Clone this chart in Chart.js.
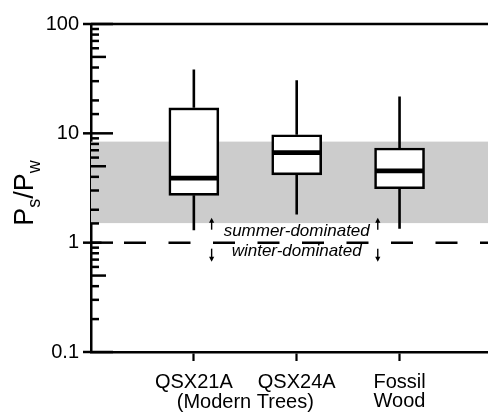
<!DOCTYPE html>
<html>
<head>
<meta charset="utf-8">
<script src="https://cdn.jsdelivr.net/npm/chart.js@4"></script>
<style>
  html, body { margin: 0; padding: 0; background: #fff; }
  #wrap { position: relative; width: 488px; height: 417px; }
</style>
</head>
<body>
<div id="wrap"><canvas id="chart"></canvas></div>
<script>
// Data
const categories = [["QSX21A"], ["QSX24A"], ["Fossil", "Wood"]];
const groupLabel = "(Modern Trees)";
const whiskerLow = [1.30, 1.81, 1.34];
const q1 = [2.71, 4.17, 3.11];
const median = [3.90, 6.66, 4.53];
const q3 = [17.1, 9.71, 7.34];
const whiskerHigh = [38.4, 30.6, 21.7];
const bandRange = [1.51, 8.4];
const refLine = 1;
const yTickLabels = [0.1, 1, 10, 100];
const notes = ["summer-dominated", "winter-dominated"];

const FONT = "'Liberation Sans', Arial, sans-serif";
const INK = "#000";
const xPos = categories.map((c, i) => i + 1);

// grey band + dashed reference line behind the boxes
const backdrop = {
  id: "backdrop",
  beforeDatasetsDraw(chart) {
    const { ctx, chartArea: a, scales: { y } } = chart;
    const yTop = y.getPixelForValue(bandRange[1]);
    const yBot = y.getPixelForValue(bandRange[0]);
    ctx.save();
    ctx.fillStyle = "#cccccc";
    ctx.fillRect(a.left, yTop, a.right - a.left, yBot - yTop);

    const yr = y.getPixelForValue(refLine);
    ctx.strokeStyle = INK;
    ctx.lineWidth = 2.5;
    ctx.setLineDash([22, 22.5]);
    ctx.lineDashOffset = 11.5;
    ctx.beginPath();
    ctx.moveTo(a.left, yr);
    ctx.lineTo(a.right, yr);
    ctx.stroke();
    ctx.restore();
  },
};

// whiskers + medians, tick marks, top frame, labels
const boxExtras = {
  id: "boxExtras",
  afterDatasetsDraw(chart) {
    const { ctx, chartArea: a, scales: { x, y } } = chart;
    const bars = chart.getDatasetMeta(0).data;
    ctx.save();
    ctx.strokeStyle = INK;

    bars.forEach((bar, i) => {
      const cx = bar.x;
      const half = bar.width / 2;
      ctx.lineWidth = 2.6;
      ctx.beginPath();
      ctx.moveTo(cx, y.getPixelForValue(q3[i]));
      ctx.lineTo(cx, y.getPixelForValue(whiskerHigh[i]));
      ctx.moveTo(cx, y.getPixelForValue(q1[i]));
      ctx.lineTo(cx, y.getPixelForValue(whiskerLow[i]));
      ctx.stroke();
      ctx.lineWidth = 4.7;
      const ym = y.getPixelForValue(median[i]);
      ctx.beginPath();
      ctx.moveTo(cx - half + 1, ym);
      ctx.lineTo(cx + half - 1, ym);
      ctx.stroke();
    });

    // y tick marks (inside), majors cross the axis
    ctx.lineWidth = 2.5;
    y.ticks.forEach((t) => {
      const v = t.value;
      const m = Math.round(v / Math.pow(10, Math.floor(Math.log10(v) + 1e-9)));
      const py = y.getPixelForValue(v);
      let x0 = a.left, x1 = a.left + 8;
      if (m === 1) { x0 = a.left - 8; x1 = a.left + 22; }
      else if (m === 5) { x1 = a.left + 15; }
      ctx.beginPath();
      ctx.moveTo(x0, py);
      ctx.lineTo(x1, py);
      ctx.stroke();
    });

    // top frame line
    ctx.beginPath();
    ctx.moveTo(a.left, a.top);
    ctx.lineTo(a.right, a.top);
    ctx.stroke();

    // annotation text around the reference line
    const yr = y.getPixelForValue(refLine);
    const cx = x.getPixelForValue(2);
    ctx.fillStyle = INK;
    ctx.font = "italic 17px " + FONT;
    ctx.textAlign = "center";
    ctx.textBaseline = "alphabetic";
    ctx.fillText(notes[0], cx, yr - 7);
    ctx.fillText(notes[1], cx, yr + 13);
    const w = ctx.measureText(notes[0]).width;
    const arrowXs = [cx - w / 2 - 12, cx + w / 2 + 8];
    ctx.lineWidth = 1.4;
    arrowXs.forEach((ax) => {
      // up arrow
      ctx.beginPath();
      ctx.moveTo(ax, yr - 13);
      ctx.lineTo(ax, yr - 22);
      ctx.stroke();
      ctx.beginPath();
      ctx.moveTo(ax, yr - 25);
      ctx.lineTo(ax - 2.6, yr - 20);
      ctx.lineTo(ax + 2.6, yr - 20);
      ctx.closePath();
      ctx.fill();
      // down arrow
      ctx.beginPath();
      ctx.moveTo(ax, yr + 6);
      ctx.lineTo(ax, yr + 15);
      ctx.stroke();
      ctx.beginPath();
      ctx.moveTo(ax, yr + 19);
      ctx.lineTo(ax - 2.6, yr + 14);
      ctx.lineTo(ax + 2.6, yr + 14);
      ctx.closePath();
      ctx.fill();
    });

    // group label under first two categories
    ctx.font = "20px " + FONT;
    ctx.textBaseline = "middle";
    ctx.fillText(groupLabel, (x.getPixelForValue(1) + x.getPixelForValue(2)) / 2, a.bottom + 50);

    // y axis title P_s/P_w, rotated
    const parts = [["P", 27, 0], ["s", 18, 7], ["/P", 27, 0], ["w", 18, 7]];
    let total = 0;
    parts.forEach((p) => { ctx.font = p[1] + "px " + FONT; total += ctx.measureText(p[0]).width; });
    ctx.translate(33, 193 + total / 2);
    ctx.rotate(-Math.PI / 2);
    ctx.textAlign = "left";
    ctx.textBaseline = "alphabetic";
    let off = 0;
    parts.forEach((p) => {
      ctx.font = p[1] + "px " + FONT;
      ctx.fillText(p[0], off, p[2]);
      off += ctx.measureText(p[0]).width;
    });
    ctx.restore();
  },
};

Chart.defaults.font.family = FONT;
Chart.defaults.font.size = 20;
Chart.defaults.color = INK;

new Chart(document.getElementById("chart"), {
  type: "bar",
  data: {
    datasets: [
      {
        data: xPos.map((xv, i) => ({ x: xv, y: [q1[i], q3[i]] })),
        backgroundColor: "#fff",
        borderColor: INK,
        borderWidth: 2.6,
        borderSkipped: false,
        barThickness: 50,
      },
    ],
  },
  options: {
    responsive: true,
    maintainAspectRatio: false,
    animation: false,
    layout: { padding: { top: 17, right: 0, left: 0, bottom: 0 } },
    plugins: { legend: { display: false }, tooltip: { enabled: false } },
    scales: {
      x: {
        type: "linear",
        min: 0,
        max: 3.86,
        offset: false,
        afterBuildTicks: (s) => { s.ticks = xPos.map((v) => ({ value: v })); },
        afterFit: (s) => { s.height = 65; },
        grid: { offset: false, drawOnChartArea: false, drawTicks: true, tickLength: 9, tickWidth: 2.2, tickColor: INK },
        border: { display: true, color: INK, width: 2.5 },
        ticks: {
          autoSkip: false,
          maxRotation: 0,
          padding: 12,
          font: { size: 20, lineHeight: 0.95 },
          callback: (v) => categories[Math.round(v) - 1] || "",
        },
      },
      y: {
        type: "logarithmic",
        min: 0.1,
        max: 100,
        afterFit: (s) => { s.width = 91; },
        grid: { drawOnChartArea: false, drawTicks: false },
        border: { display: true, color: INK, width: 2.5 },
        ticks: {
          autoSkip: false,
          padding: 12,
          font: { size: 20 },
          callback: (v) => {
            const hit = yTickLabels.find((t) => Math.abs(t - v) / t < 1e-6);
            return hit === undefined ? "" : String(hit);
          },
        },
      },
    },
  },
  plugins: [backdrop, boxExtras],
});
</script>
</body>
</html>
